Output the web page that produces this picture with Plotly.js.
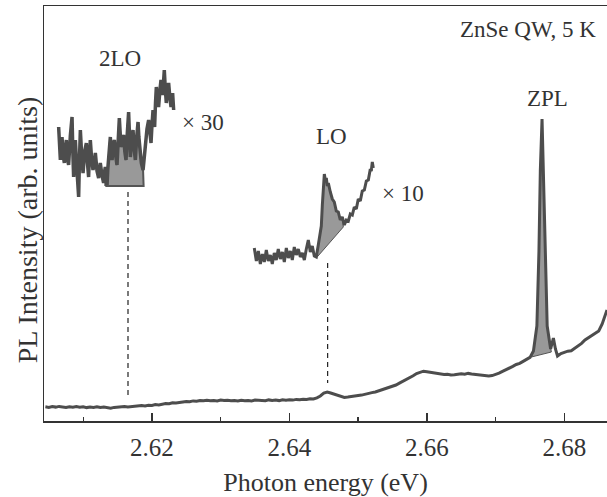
<!DOCTYPE html>
<html>
<head>
<meta charset="utf-8">
<script src="https://cdn.plot.ly/plotly-3.0.1.min.js"></script>
<style>
html,body{margin:0;padding:0;background:#fff;overflow:hidden;}
#chart{width:607px;height:497px;}
</style>
</head>
<body>
<div id="chart"></div>
<script>
// Main PL spectrum (photon energy in eV, intensity in arb. units)
const mainE = [2.6045,2.605,2.6055,2.606,2.6065,2.607,2.6075,2.608,2.6085,2.609,2.6095,2.610,2.6105,2.611,2.6115,2.612,2.6125,2.613,2.6135,2.614,2.6145,2.615,2.6155,2.616,2.6165,2.617,2.6175,2.618,2.6185,2.619,2.6195,2.620,2.6205,2.621,2.6215,2.622,2.6225,2.623,2.6235,2.624,2.6245,2.625,2.6255,2.626,2.6265,2.627,2.6275,2.628,2.6285,2.629,2.6295,2.630,2.6305,2.631,2.6315,2.632,2.6325,2.633,2.6335,2.634,2.6345,2.635,2.6355,2.636,2.6365,2.637,2.6375,2.638,2.6385,2.639,2.6395,2.640,2.6405,2.641,2.6415,2.642,2.6425,2.643,2.6435,2.644,2.6445,2.645,2.6455,2.646,2.6465,2.647,2.6475,2.648,2.6485,2.649,2.6495,2.650,2.6505,2.651,2.6515,2.652,2.6525,2.653,2.6535,2.654,2.6545,2.655,2.6555,2.656,2.6565,2.657,2.6575,2.658,2.6585,2.659,2.6595,2.660,2.6605,2.661,2.6615,2.662,2.6625,2.663,2.6635,2.664,2.6645,2.665,2.6655,2.666,2.6665,2.667,2.6675,2.668,2.6685,2.669,2.6695,2.670,2.6705,2.671,2.6715,2.672,2.6725,2.673,2.6735,2.674,2.6745,2.675,2.6755,2.676,2.6763,2.6765,2.67675,2.677,2.6772,2.6775,2.678,2.6784,2.6787,2.679,2.6795,2.680,2.6805,2.681,2.6815,2.682,2.6825,2.683,2.6835,2.684,2.6845,2.685,2.6855,2.686,2.6862];
const mainI = [14.2,13.6,14.5,13.9,14.6,14.0,13.5,14.3,13.8,14.4,13.7,14.2,13.4,14.0,13.6,14.3,13.5,13.9,13.2,12.8,13.6,14.0,13.7,14.6,14.1,14.4,15.0,14.6,15.4,15.0,15.7,15.5,16.4,16.1,17.0,17.4,17.2,18.3,18.0,18.9,19.1,19.6,19.3,20.1,19.8,20.5,20.2,20.8,20.3,20.6,20.1,20.9,20.4,20.7,20.2,20.6,20.0,20.8,20.3,20.6,20.1,20.9,20.5,20.8,20.3,21.1,20.6,20.9,20.4,21.3,20.8,21.2,20.9,21.6,21.2,21.8,21.5,22.3,22.0,23.2,25.0,27.8,29.0,28.0,26.8,25.3,24.2,23.6,23.9,24.2,24.6,25.4,25.9,26.9,27.3,28.4,29.0,30.1,31.0,32.2,33.5,34.8,36.0,37.8,39.5,41.6,43.2,45.2,47.5,49.0,49.8,49.3,48.6,48.0,47.6,47.2,46.5,46.8,46.0,46.3,46.9,47.3,46.8,47.6,47.0,46.6,46.2,46.0,45.3,45.0,45.4,46.3,47.8,49.6,51.0,53.2,54.6,56.5,57.6,59.6,61.2,63.6,70,95,170,250,302,240,165,95,72,83,72,65,67.5,69,69.8,70.2,72.5,75,77.6,81,83.2,86,87.5,90,97,107,111];

// LO replica, magnified x10 (offset inset)
const loE = [2.63489,2.63519,2.63548,2.63577,2.63606,2.63635,2.63664,2.63693,2.63722,2.63751,2.63780,2.63809,2.63838,2.63868,2.63897,2.63926,2.63955,2.63984,2.64013,2.64042,2.64071,2.64100,2.64129,2.64159,2.64188,2.64217,2.64246,2.64275,2.64304,2.64333,2.64362,2.64391,2.64420,2.64449,2.64464,2.64479,2.64493,2.64508,2.64522,2.64537,2.64551,2.64566,2.64595,2.64624,2.64653,2.64682,2.64711,2.64740,2.64769,2.64799,2.64828,2.64857,2.64886,2.64915,2.64944,2.64973,2.65002,2.65031,2.65060,2.65090,2.65119,2.65148,2.65177,2.65191,2.65206,2.65220];
const loI = [173,160,170,157,167,159,171,160,166,157,168,161,172,162,169,159,173,163,170,161,174,166,172,164,168,161,172,181,169,175,165,164,176,189,195,216,236,247,241,243,235,238,229,222,219,210,209,201,204,196,201,200,207,206,214,212,222,220,230,231,240,241,252,250,259,253];

// 2LO replica, magnified x30 (offset inset)
const twoLoE = [2.60643,2.60655,2.60668,2.60680,2.60692,2.60709,2.60726,2.60740,2.60755,2.60771,2.60788,2.60813,2.60838,2.60850,2.60861,2.60874,2.60886,2.60910,2.60934,2.60946,2.60959,2.60978,2.60998,2.61022,2.61046,2.61062,2.61079,2.61091,2.61104,2.61123,2.61143,2.61160,2.61177,2.61201,2.61225,2.61237,2.61249,2.61273,2.61297,2.61310,2.61322,2.61335,2.61347,2.61358,2.61370,2.61383,2.61395,2.61408,2.61420,2.61437,2.61453,2.61472,2.61492,2.61509,2.61526,2.61540,2.61555,2.61572,2.61588,2.61605,2.61623,2.61642,2.61661,2.61674,2.61686,2.61705,2.61725,2.61742,2.61759,2.61778,2.61798,2.61810,2.61821,2.61846,2.61871,2.61888,2.61904,2.61928,2.61952,2.61970,2.61987,2.62001,2.62016,2.62028,2.62039,2.62052,2.62064,2.62080,2.62097,2.62115,2.62132,2.62147,2.62161,2.62170,2.62180,2.62195,2.62209,2.62226,2.62243,2.62260,2.62278,2.62290,2.62301,2.62316];
const twoLoI = [294,270,261,279,284,266,258,272,281,262,256,285,304,268,244,262,281,250,224,262,291,266,248,270,278,258,244,266,281,262,251,258,268,250,243,252,258,246,238,249,254,243,236,252,264,278,284,270,261,275,281,266,256,280,303,286,274,283,286,270,261,288,309,285,264,280,291,272,261,283,299,284,274,258,251,266,278,292,301,288,278,296,311,300,294,318,334,322,314,330,341,332,326,340,351,332,318,330,338,324,314,322,328,311];

// Shaded-area baselines (start/end energy and intensity)
const zplBaseE = [2.6752, 2.6781];
const zplBaseI = [64, 69];
const loBaseE = [2.64391, 2.64784];
const loBaseI = [163, 194];
const twoLoBaseE = [2.61322, 2.61879];
const twoLoBaseI = [235, 235];

// Dashed markers at the phonon replica energies
const phononE = [2.61652, 2.64556];
const phononTop = [229, 158];
const phononBottom = [26, 38];

// Tick values / labels
const tickVals = [2.62, 2.64, 2.66, 2.68];
const tickText = ['2.62', '2.64', '2.66', '2.68'];

const LINE = '#4d4d4d';
const FILL = '#999999';
const FONT = '"Liberation Serif", "Times New Roman", serif';

function fillPoly(E, I, bE, bI) {
  const xs = [bE[0]], ys = [bI[0]];
  for (let k = 0; k < E.length; k++) {
    if (E[k] >= bE[0] && E[k] <= bE[1]) { xs.push(E[k]); ys.push(I[k]); }
  }
  xs.push(bE[1]); ys.push(bI[1]);
  xs.push(bE[0]); ys.push(bI[0]);
  return {x: xs, y: ys};
}

const fz = fillPoly(mainE, mainI, zplBaseE, zplBaseI);
const fl = fillPoly(loE, loI, loBaseE, loBaseI);
const f2 = fillPoly(twoLoE, twoLoI, twoLoBaseE, twoLoBaseI);

const fillStyle = {type: 'scatter', mode: 'lines', fill: 'toself', fillcolor: FILL,
  line: {width: 1, color: '#555'}, hoverinfo: 'skip', showlegend: false};

const traces = [
  Object.assign({x: fz.x, y: fz.y}, fillStyle),
  Object.assign({x: fl.x, y: fl.y}, fillStyle),
  Object.assign({x: f2.x, y: f2.y}, fillStyle, {line: {width: 2, color: '#555'}}),
  {type: 'scatter', mode: 'lines', x: mainE, y: mainI, line: {color: LINE, width: 3}, showlegend: false},
  {type: 'scatter', mode: 'lines', x: loE, y: loI, line: {color: LINE, width: 3}, showlegend: false},
  {type: 'scatter', mode: 'lines', x: twoLoE, y: twoLoI, line: {color: LINE, width: 3.5}, showlegend: false},
  {type: 'scatter', mode: 'lines', x: [phononE[0], phononE[0]], y: [phononTop[0], phononBottom[0]],
    line: {color: '#222', width: 1.2, dash: '5px,4px'}, showlegend: false},
  {type: 'scatter', mode: 'lines', x: [phononE[1], phononE[1]], y: [phononTop[1], phononBottom[1]],
    line: {color: '#222', width: 1.2, dash: '5px,4px'}, showlegend: false}
];

function ann(text, x, y, xanchor) {
  return {text: text, x: x, y: y, xref: 'x', yref: 'y', showarrow: false,
    xanchor: xanchor || 'center', yanchor: 'middle',
    font: {family: FONT, size: 23, color: '#333'}};
}

const layout = {
  width: 607, height: 497,
  margin: {l: 44, r: 0, t: 6, b: 76},
  paper_bgcolor: '#fff', plot_bgcolor: '#fff',
  showlegend: false,
  font: {family: FONT, color: '#333'},
  xaxis: {
    range: [2.6043, 2.6862],
    tickvals: tickVals, ticktext: tickText,
    ticks: 'inside', ticklen: 8, tickwidth: 1.3, tickcolor: '#333',
    minor: {ticks: 'inside', ticklen: 4, dtick: 0.01, tick0: 2.6, tickwidth: 1.3, tickcolor: '#333', showgrid: false},
    showline: true, linecolor: '#333', linewidth: 1.5, mirror: true,
    showgrid: false, zeroline: false,
    ticklabelstandoff: 3,
    tickfont: {family: FONT, size: 25, color: '#333'},
    title: {text: 'Photon energy (eV)', font: {family: FONT, size: 26, color: '#333'}, standoff: 17}
  },
  yaxis: {
    range: [0, 415],
    showticklabels: false, ticks: '',
    showline: true, linecolor: '#333', linewidth: 1.5,
    showgrid: false, zeroline: false
  },
  annotations: [
    {text: 'PL Intensity (arb. units)', textangle: -90, x: -0.030, y: 0.46, xref: 'paper', yref: 'paper',
      xanchor: 'center', yanchor: 'middle', showarrow: false,
      font: {family: FONT, size: 28, color: '#333'}},
    ann('ZnSe QW, 5 K', 2.68493, 392, 'right'),
    ann('2LO', 2.61540, 363),
    ann('× 30', 2.62410, 299, 'left'),
    ann('LO', 2.64609, 285),
    ann('× 10', 2.65322, 228, 'left'),
    ann('ZPL', 2.67759, 323)
  ]
};

Plotly.newPlot('chart', traces, layout, {displayModeBar: false, staticPlot: true});
</script>
</body>
</html>
